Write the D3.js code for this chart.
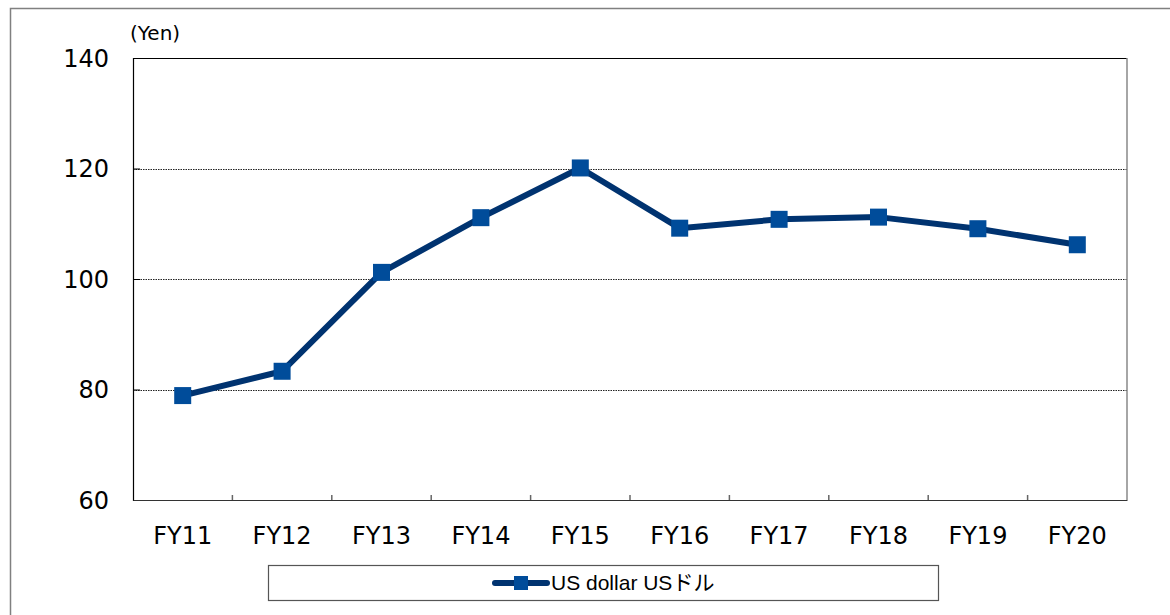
<!DOCTYPE html>
<html>
<head>
<meta charset="utf-8">
<script src="https://cdn.jsdelivr.net/npm/d3@7"></script>
<style>
  body { margin: 0; background: #fff; }
  svg text { font-family: "DejaVu Sans", Verdana, sans-serif; fill: #000; }
</style>
</head>
<body>
<div id="chart"></div>
<script>
// Data
const years = ["FY11", "FY12", "FY13", "FY14", "FY15", "FY16", "FY17", "FY18", "FY19", "FY20"];
const usdJpy = [78.9, 83.3, 101.2, 111.1, 120.1, 109.2, 110.8, 111.2, 109.1, 106.2];
const yTicks = [60, 80, 100, 120, 140];
const seriesName = "US dollar USドル";

// Dimensions
let margin = { top: 58, right: 43, bottom: 115, left: 133 };
let W = 1170, H = 615;
let width = W - margin.left - margin.right;
let height = H - margin.top - margin.bottom;

let svg = d3.select("#chart")
    .append("svg")
    .attr("width", W)
    .attr("height", H);

// outer frame (runs past the picture edge on right and bottom)
svg.append("rect")
    .attr("x", 10.5).attr("y", 8.5)
    .attr("width", W + 20).attr("height", H + 20)
    .attr("fill", "none")
    .attr("stroke", "#808080")
    .attr("stroke-width", 1.5);

let g = svg.append("g")
    .attr("transform", `translate(${margin.left},${margin.top})`);

// Scales
let x = d3.scaleBand().domain(years).range([0, width]).padding(0);
let y = d3.scaleLinear().domain([60, 140]).range([height, 0]);

// gridlines
g.selectAll(".grid")
    .data(yTicks.filter(d => d > 60 && d < 140))
    .enter().append("line")
    .attr("x1", 0).attr("x2", width)
    .attr("y1", d => Math.round(y(d)) + 0.5)
    .attr("y2", d => Math.round(y(d)) + 0.5)
    .attr("stroke", "#222")
    .attr("stroke-width", 1)
    .attr("stroke-dasharray", "1.5,1");

// plot frame
g.append("line").attr("x1", 0).attr("x2", width).attr("y1", 0.5).attr("y2", 0.5)
    .attr("stroke", "#000").attr("stroke-width", 1.2);
g.append("line").attr("x1", width).attr("x2", width).attr("y1", 0).attr("y2", height)
    .attr("stroke", "#888").attr("stroke-width", 1.5);

// Y axis
let yAxis = g.append("g")
    .call(d3.axisLeft(y).tickValues(yTicks).tickSize(-7).tickPadding(24));
yAxis.select(".domain").attr("stroke", "#000").attr("stroke-width", 1.2);
yAxis.selectAll("text").attr("font-size", "24px").attr("dy", "0.35em");

// X axis: ticks at category boundaries
let xAxis = g.append("g")
    .attr("transform", `translate(0,${height})`)
    .call(d3.axisBottom(x).tickSize(0).tickPadding(27));
xAxis.select(".domain").attr("stroke", "#333").attr("stroke-width", 1.2);
xAxis.selectAll("text").attr("font-size", "24px");

g.selectAll(".xtick")
    .data(years.slice(1))
    .enter().append("line")
    .attr("x1", d => x(d)).attr("x2", d => x(d))
    .attr("y1", height).attr("y2", height - 5)
    .attr("stroke", "#666").attr("stroke-width", 1.5);

// unit label
svg.append("text")
    .attr("x", 130).attr("y", 40)
    .attr("font-size", "20px")
    .text("(Yen)");

// line
let line = d3.line()
    .x((d, i) => x(years[i]) + x.bandwidth() / 2)
    .y(d => y(d));

g.append("path")
    .datum(usdJpy)
    .attr("d", line)
    .attr("fill", "none")
    .attr("stroke", "#003370")
    .attr("stroke-width", 6)
    .attr("stroke-linejoin", "round");

let ms = 17;
g.selectAll(".dot")
    .data(usdJpy)
    .enter().append("rect")
    .attr("x", (d, i) => x(years[i]) + x.bandwidth() / 2 - ms / 2)
    .attr("y", d => y(d) - ms / 2)
    .attr("width", ms).attr("height", ms)
    .attr("fill", "#004C9A");

// Legend
let lg = svg.append("g");
lg.append("rect")
    .attr("x", 268.5).attr("y", 565.5)
    .attr("width", 670).attr("height", 35)
    .attr("fill", "#fff")
    .attr("stroke", "#555").attr("stroke-width", 1.2);
lg.append("line")
    .attr("x1", 495).attr("x2", 547).attr("y1", 583).attr("y2", 583)
    .attr("stroke", "#003370").attr("stroke-width", 6).attr("stroke-linecap", "round");
lg.append("rect")
    .attr("x", 514).attr("y", 576).attr("width", 14).attr("height", 14)
    .attr("fill", "#004C9A");
lg.append("text")
    .attr("x", 551).attr("y", 590)
    .style("font-family", "'Liberation Sans Narrow', 'Liberation Sans', 'Noto Sans CJK JP', sans-serif")
    .attr("font-size", "21px")
    .text(seriesName);
</script>
</body>
</html>
